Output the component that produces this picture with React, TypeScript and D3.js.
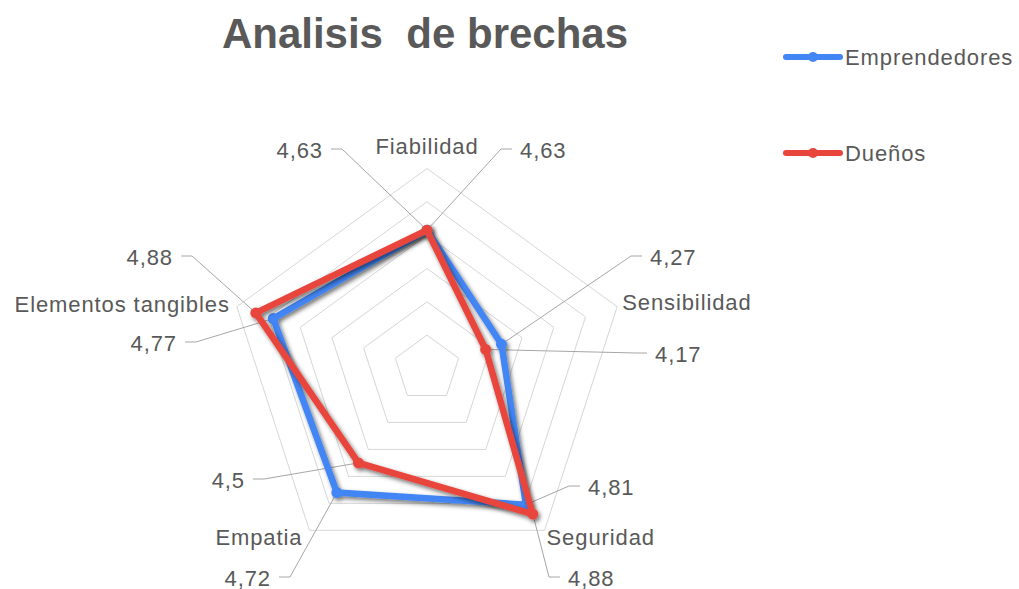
import React from "react";
import * as d3 from "d3";

// chart values
const categories = ["Fiabilidad", "Sensibilidad", "Seguridad", "Empatia", "Elementos tangibles"];
const emprendedores = [4.63, 4.27, 4.81, 4.72, 4.77];
const duenos = [4.63, 4.17, 4.88, 4.5, 4.88];
const seriesNames = ["Emprendedores", "Dueños"];
const gridTicks = [4.0, 4.2, 4.4, 4.6, 4.8, 5.0];
const axisDomain = [3.8, 5.0];

// layout of the data labels (offsets from chart centre)
const labelLayout = [
  { cat: 0, s: 0, dx: -104, dy: -218.5, anchor: "end" },
  { cat: 0, s: 1, dx: 93, dy: -218.5, anchor: "start" },
  { cat: 1, s: 0, dx: 223, dy: -111.5, anchor: "start" },
  { cat: 1, s: 1, dx: 228, dy: -14.5, anchor: "start" },
  { cat: 2, s: 0, dx: 161, dy: 118.5, anchor: "start" },
  { cat: 2, s: 1, dx: 141, dy: 209.5, anchor: "start" },
  { cat: 3, s: 1, dx: -182, dy: 111.5, anchor: "end" },
  { cat: 3, s: 0, dx: -156, dy: 209.5, anchor: "end" },
  { cat: 4, s: 1, dx: -254, dy: -111.5, anchor: "end" },
  { cat: 4, s: 0, dx: -250, dy: -25.5, anchor: "end" },
];
const catLabelOffset: [number, number, string][] = [
  [0, -22, "middle"],
  [5, -4, "start"],
  [2, 7, "start"],
  [-7, 7, "end"],
  [-7, -2, "end"],
];

const colors = ["#4285f4", "#e8453c"];
const textColor = "#595959";
const font = "'Liberation Sans', Arial, sans-serif";
const labelSize = 22;
const labelSpacing = 0.9;

export default function App() {
  const W = 1019, H = 589;
  const cx = 427, cy = 368.5, R = 200;

  const r = d3.scaleLinear().domain(axisDomain).range([0, R]);
  const a = d3.scaleLinear().domain([0, categories.length]).range([0, 2 * Math.PI]);
  const pt = (i: number, v: number): [number, number] => [
    cx + r(v) * Math.sin(a(i)),
    cy - r(v) * Math.cos(a(i)),
  ];

  const radial = d3.lineRadial<number>()
    .angle((_, i) => a(i))
    .radius(d => r(d))
    .curve(d3.curveLinearClosed);

  const series = [emprendedores, duenos];
  const fmt = (v: number) => String(v).replace(".", ",");

  return (
    <svg width={W} height={H} style={{ position: "absolute", left: 0, top: 0, background: "#fff" }}
      fontFamily={font}>
      <defs>
        <filter id="shadow" x="-20%" y="-20%" width="140%" height="140%">
          <feDropShadow dx="2" dy="2.5" stdDeviation="2.2" floodColor="#000" floodOpacity="0.55" />
        </filter>
      </defs>

      {/* title */}
      <text x={425} y={33} textAnchor="middle" dominantBaseline="central" fontSize={42}
        fontWeight="bold" fill={textColor} style={{ whiteSpace: "pre" }}>
        {"Analisis  de brechas"}
      </text>

      {/* grid */}
      <g transform={`translate(${cx},${cy})`}>
        {gridTicks.map(t => (
          <path key={t} d={radial(categories.map(() => t)) || ""} fill="none"
            stroke="#d6d6d6" strokeWidth={1} />
        ))}
      </g>

      {/* leader lines */}
      {labelLayout.map((l, k) => {
        const [px, py] = pt(l.cat, series[l.s][l.cat]);
        const x = cx + l.dx, y = cy + l.dy - 1;
        const edge = l.anchor === "end" ? x + 8 : x - 8;
        const elbow = l.anchor === "end" ? x + 19 : x - 19;
        return (
          <polyline key={k} points={`${px},${py} ${elbow},${y} ${edge},${y}`}
            fill="none" stroke="#a6a6a6" strokeWidth={1} />
        );
      })}

      {/* series */}
      {series.map((s, si) => (
        <g key={si} filter="url(#shadow)">
          <path transform={`translate(${cx},${cy})`} d={radial(s) || ""} fill="none"
            stroke={colors[si]} strokeWidth={6.5} strokeLinejoin="round" />
          {s.map((v, i) => {
            const [x, y] = pt(i, v);
            return <circle key={i} cx={x} cy={y} r={5.5} fill={colors[si]} />;
          })}
        </g>
      ))}

      {/* category labels */}
      {categories.map((c, i) => {
        const [x, y] = pt(i, axisDomain[1]);
        const [ox, oy, anchor] = catLabelOffset[i];
        return (
          <text key={c} x={x + ox} y={y + oy} textAnchor={anchor} dominantBaseline="central"
            fontSize={labelSize} letterSpacing={labelSpacing} fill={textColor}>{c}</text>
        );
      })}

      {/* data labels */}
      {labelLayout.map((l, k) => (
        <text key={k} x={cx + l.dx} y={cy + l.dy} textAnchor={l.anchor} dominantBaseline="central"
          fontSize={labelSize} letterSpacing={labelSpacing} fill={textColor}>{fmt(series[l.s][l.cat])}</text>
      ))}

      {/* legend */}
      {seriesNames.map((n, i) => {
        const y = 57 + i * 96;
        return (
          <g key={n}>
            <line x1={786} x2={840} y1={y} y2={y} stroke={colors[i]} strokeWidth={6} strokeLinecap="round" />
            <circle cx={813} cy={y} r={5} fill={colors[i]} />
            <text x={845} y={y} dominantBaseline="central" fontSize={labelSize} letterSpacing={labelSpacing}
              fill={textColor}>{n}</text>
          </g>
        );
      })}
    </svg>
  );
}
